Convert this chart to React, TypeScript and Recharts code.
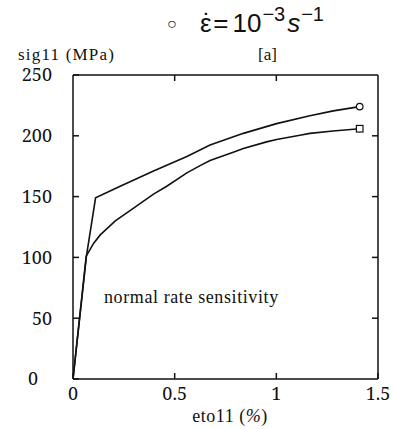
import React from 'react';
import { LineChart, Line, XAxis, YAxis } from 'recharts';

const xTicks = [0, 0.5, 1, 1.5];
const yTicks = [0, 50, 100, 150, 200, 250];

const upperCurve = [
  { x: 0, y: 0 },
  { x: 0.066, y: 101 },
  { x: 0.111, y: 149 },
  { x: 0.232, y: 158.5 },
  { x: 0.396, y: 171 },
  { x: 0.56, y: 183 },
  { x: 0.674, y: 192.5 },
  { x: 0.838, y: 202 },
  { x: 1.001, y: 210 },
  { x: 1.165, y: 216.5 },
  { x: 1.28, y: 220.5 },
  { x: 1.41, y: 224 },
];

const lowerCurve = [
  { x: 0, y: 0 },
  { x: 0.065, y: 101 },
  { x: 0.101, y: 111.5 },
  { x: 0.134, y: 118.5 },
  { x: 0.208, y: 130 },
  { x: 0.298, y: 140.5 },
  { x: 0.396, y: 152 },
  { x: 0.461, y: 158.5 },
  { x: 0.56, y: 169.5 },
  { x: 0.625, y: 175.5 },
  { x: 0.674, y: 179.6 },
  { x: 0.788, y: 186.5 },
  { x: 0.838, y: 189.5 },
  { x: 0.952, y: 195 },
  { x: 1.001, y: 197 },
  { x: 1.116, y: 200.5 },
  { x: 1.165, y: 202 },
  { x: 1.279, y: 204 },
  { x: 1.41, y: 205.8 },
];

const SERIF = 'Liberation Serif';
const TICKFONT = 'Noto Serif, Liberation Serif';
const SANS = 'Liberation Sans';
const INK = '#111';

const endCircle = (len: number) => (props: any) => {
  if (props.index !== len - 1) return <g key={props.index} />;
  return <circle key={props.index} cx={props.cx} cy={props.cy} r={3.3} fill="#fff" stroke={INK} strokeWidth={1.2} />;
};
const endSquare = (len: number) => (props: any) => {
  if (props.index !== len - 1) return <g key={props.index} />;
  return (
    <rect key={props.index} x={props.cx - 3.3} y={props.cy - 3.3} width={6.6} height={6.6} fill="#fff" stroke={INK} strokeWidth={1.2} />
  );
};

const LeftTick = (props: any) => {
  const { x, y, payload } = props;
  const shift = payload.value === 0 ? -14 : 0;
  return (
    <text x={x + shift} y={y} dy="0.36em" textAnchor="end" fontFamily={TICKFONT} fontSize={18} fill={INK}>
      {payload.value}
    </text>
  );
};

const BottomTick = (props: any) => {
  const { x, y, payload } = props;
  return (
    <text x={x} y={y} dy="0.71em" textAnchor="middle" fontFamily={TICKFONT} fontSize={18} fill={INK}>
      {payload.value}
    </text>
  );
};

export default function App() {
  return (
    <div style={{ position: 'absolute', left: 0, top: 0, width: 393, height: 429, background: '#fff' }}>
      <LineChart width={393} height={429} margin={{ top: 0, right: 0, bottom: 0, left: 0 }}>
        <XAxis
          xAxisId="b"
          orientation="bottom"
          type="number"
          dataKey="x"
          domain={[0, 1.5]}
          ticks={xTicks}
          height={50}
          tickSize={-6}
          tickMargin={14}
          stroke={INK}
          strokeWidth={1.5}
          tick={<BottomTick />}
          allowDataOverflow
        />
        <XAxis
          xAxisId="t"
          orientation="top"
          type="number"
          dataKey="x"
          domain={[0, 1.5]}
          ticks={[0.5, 1]}
          height={75}
          tickSize={-6}
          tickFormatter={() => ''}
          stroke={INK}
          strokeWidth={1.5}
          allowDataOverflow
        />
        <YAxis
          yAxisId="l"
          orientation="left"
          type="number"
          dataKey="y"
          domain={[0, 250]}
          ticks={yTicks}
          width={73}
          tickSize={-6}
          tickMargin={27}
          stroke={INK}
          strokeWidth={1.5}
          tick={<LeftTick />}
          allowDataOverflow
        />
        <YAxis
          yAxisId="r"
          orientation="right"
          type="number"
          dataKey="y"
          domain={[0, 250]}
          ticks={[50, 100, 150, 200]}
          width={15}
          tickSize={-6}
          tickFormatter={() => ''}
          stroke={INK}
          strokeWidth={1.5}
          allowDataOverflow
        />
        <Line
          xAxisId="b"
          yAxisId="l"
          data={upperCurve}
          dataKey="y"
          type="linear"
          stroke={INK}
          strokeWidth={1.6}
          dot={endCircle(upperCurve.length)}
          activeDot={false}
          isAnimationActive={false}
        />
        <Line
          xAxisId="b"
          yAxisId="l"
          data={lowerCurve}
          dataKey="y"
          type="linear"
          stroke={INK}
          strokeWidth={1.6}
          dot={endSquare(lowerCurve.length)}
          activeDot={false}
          isAnimationActive={false}
        />
      </LineChart>
      <svg width={393} height={429} style={{ position: 'absolute', left: 0, top: 0, pointerEvents: 'none' }}>
        <text x={167} y={29} fontFamily={SANS} fontSize={16} fill={INK}>○</text>
        <text x={200} y={32} fontFamily={SANS} fontSize={26} fill={INK}>
          ε
          <tspan dx={-8.8}>˙</tspan>
          <tspan dx={1.8}>=</tspan>
          <tspan dx={4}>10</tspan>
          <tspan dy={-11} dx={1} fontSize={20}>−3</tspan>
          <tspan dy={11} dx={2} fontStyle="italic">s</tspan>
          <tspan dy={-11} dx={1} fontSize={20}>−1</tspan>
        </text>
        <text x={18} y={60} fontFamily={SERIF} fontSize={17} letterSpacing={1.2} fill={INK}>sig11 (MPa)</text>
        <text x={258} y={60} fontFamily={SERIF} fontSize={17} fill={INK}>[a]</text>
        <text x={104} y={303} fontFamily={SERIF} fontSize={18} letterSpacing={0.6} fill={INK}>normal rate sensitivity</text>
        <text x={230} y={422} textAnchor="middle" fontFamily={SERIF} fontSize={18} letterSpacing={0.5} fill={INK}>
          eto11 (<tspan fontStyle="italic">%</tspan>)
        </text>
      </svg>
    </div>
  );
}
